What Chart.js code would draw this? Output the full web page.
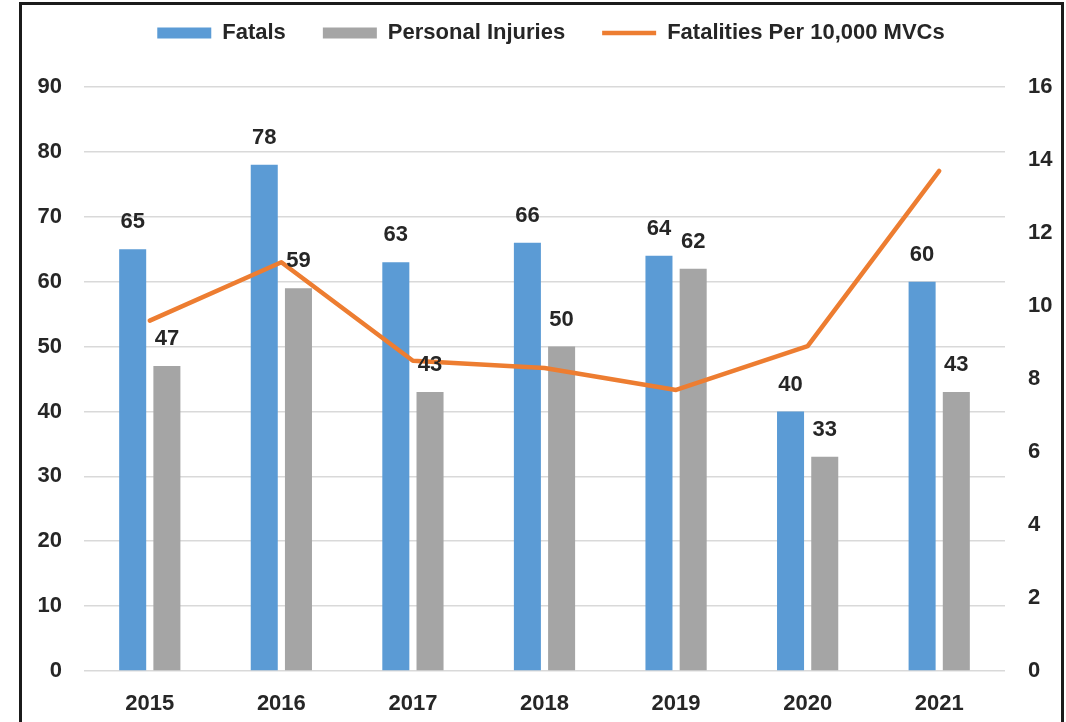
<!DOCTYPE html>
<html>
<head>
<meta charset="utf-8">
<script src="https://cdn.jsdelivr.net/npm/chart.js@4"></script>
<style>
  html, body { margin: 0; padding: 0; background: #fff; }
  #wrap { position: absolute; left: 0; top: 0; width: 1066px; height: 722px; }
  #frame {
    position: absolute; left: 19px; top: 2px; width: 1045px; height: 760px;
    box-sizing: border-box; border: 3px solid #1b1b1b; border-bottom: none;
    pointer-events: none;
  }
</style>
</head>
<body>
<div id="wrap"><canvas id="myChart"></canvas></div>
<div id="frame"></div>
<script>
const years = ['2015', '2016', '2017', '2018', '2019', '2020', '2021'];
const fatals = [65, 78, 63, 66, 64, 40, 60];
const injuries = [47, 59, 43, 50, 62, 33, 43];
const ratePer10k = [9.6, 11.2, 8.5, 8.3, 7.7, 8.9, 13.7];
const leftTicks = [0, 10, 20, 30, 40, 50, 60, 70, 80, 90];
const rightTicks = [0, 2, 4, 6, 8, 10, 12, 14, 16];

const textColor = '#262626';
const font = 'Liberation Sans, Arial, sans-serif';

// value labels above the bars, drawn after the line so they sit on top
const barLabels = {
  id: 'barLabels',
  afterDatasetsDraw(chart) {
    const ctx = chart.ctx;
    ctx.save();
    ctx.font = 'bold 22px ' + font;
    ctx.fillStyle = textColor;
    ctx.textAlign = 'center';
    ctx.textBaseline = 'middle';
    chart.data.datasets.forEach((ds, i) => {
      if (ds.type === 'line') return;
      chart.getDatasetMeta(i).data.forEach((bar, j) => {
        ctx.fillText(ds.data[j], bar.x, bar.y - 27);
      });
    });
    ctx.restore();
  }
};

const data = {
  labels: years,
  datasets: [{
    label: 'Fatals',
    data: fatals,
    backgroundColor: '#5B9BD5',
    pointStyle: 'rect',
    yAxisID: 'y',
    order: 1,
    categoryPercentage: 0.52,
    barPercentage: 0.79
  }, {
    label: 'Personal Injuries',
    data: injuries,
    backgroundColor: '#A5A5A5',
    pointStyle: 'rect',
    yAxisID: 'y',
    order: 1,
    categoryPercentage: 0.52,
    barPercentage: 0.79
  }, {
    type: 'line',
    label: 'Fatalities Per 10,000 MVCs',
    data: ratePer10k,
    borderColor: '#ED7D31',
    backgroundColor: '#ED7D31',
    borderWidth: 4.5,
    borderJoinStyle: 'round',
    borderCapStyle: 'round',
    pointRadius: 0,
    pointStyle: 'line',
    tension: 0,
    yAxisID: 'y1',
    order: 0
  }]
};

const config = {
  type: 'bar',
  data: data,
  options: {
    responsive: true,
    maintainAspectRatio: false,
    animation: false,
    // negative top/right padding pulls the legend up and re-centres it like the original
    layout: { padding: { top: -15, left: 0, right: -36, bottom: 0 } },
    plugins: {
      tooltip: { enabled: false },
      legend: {
        position: 'top',
        weight: 3000,
        labels: {
          usePointStyle: true,
          pointStyleWidth: 54,
          boxHeight: 11,
          padding: 37,
          color: textColor,
          font: { family: font, size: 22, weight: 'bold' },
          sort: (a, b) => a.datasetIndex - b.datasetIndex
        }
      },
      // empty title used as a spacer between legend and plot
      title: {
        display: true,
        text: ' ',
        position: 'top',
        font: { size: 10 },
        padding: { top: 0, bottom: 21 }
      }
    },
    scales: {
      x: {
        grid: { display: false },
        border: { display: false },
        ticks: {
          color: textColor,
          padding: 12,
          font: { family: font, size: 22, weight: 'bold' }
        },
        afterFit: (s) => { s.height = 51; }
      },
      y: {
        position: 'left',
        min: 0,
        max: 90,
        afterBuildTicks: (s) => { s.ticks = leftTicks.map(v => ({ value: v })); },
        grid: { color: '#D9D9D9', lineWidth: 1.5, drawTicks: false },
        border: { display: false },
        ticks: {
          color: textColor,
          padding: 22,
          font: { family: font, size: 22, weight: 'bold' }
        },
        afterFit: (s) => { s.width = 84; }
      },
      y1: {
        position: 'right',
        min: 0,
        max: 16,
        afterBuildTicks: (s) => { s.ticks = rightTicks.map(v => ({ value: v })); },
        grid: { display: false, drawTicks: false },
        border: { display: false },
        ticks: {
          color: textColor,
          padding: 23,
          font: { family: font, size: 22, weight: 'bold' }
        },
        afterFit: (s) => { s.width = 97; }
      }
    }
  },
  plugins: [barLabels]
};

var myChart = new Chart(
  document.getElementById('myChart'),
  config
);
</script>
</body>
</html>
